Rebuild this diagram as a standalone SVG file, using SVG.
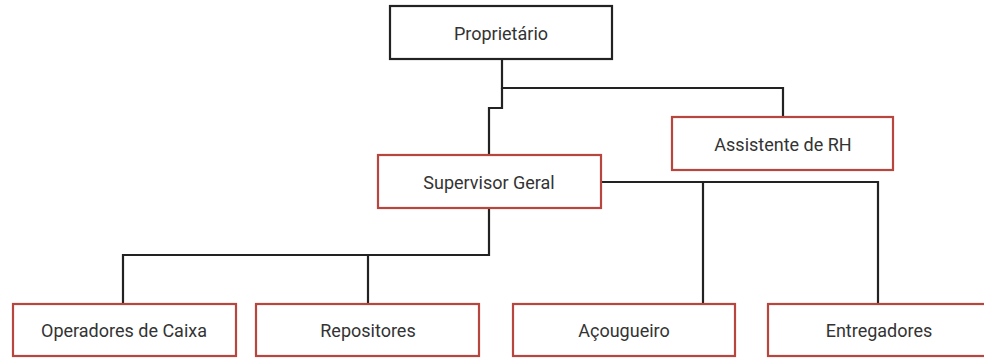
<svg xmlns="http://www.w3.org/2000/svg" width="984" height="358" viewBox="0 0 984 358">
<style>
.box{fill:#fff;stroke-width:2.2}
.blk{stroke:#222}
.red{stroke:#b9453f}
.lbl{font-family:Roboto,"Liberation Sans",sans-serif;font-size:18px;fill:#333;text-anchor:middle;dominant-baseline:central}
.con{fill:none;stroke:#222;stroke-width:2.2}
</style>
<rect width="984" height="358" fill="#fff"/>
<g id="connectors">
<path class="con" d="M502 59 V88 H783 V117"/>
<path class="con" d="M502 88 V108 H489 V155"/>
<path class="con" d="M601 182 H878 V304"/>
<path class="con" d="M703 182 V304"/>
<path class="con" d="M489 208 V255 H123 V304"/>
<path class="con" d="M368 255 V304"/>
</g>
<g id="proprietario"><rect class="box blk" x="390" y="6" width="222" height="53"/><text class="lbl" x="501" y="33">Proprietário</text></g>
<g id="assistente-rh"><rect class="box red" x="672" y="117" width="221" height="53"/><text class="lbl" x="783" y="144">Assistente de RH</text></g>
<g id="supervisor-geral"><rect class="box red" x="378" y="155" width="223" height="53"/><text class="lbl" x="489" y="182">Supervisor Geral</text></g>
<g id="operadores-caixa"><rect class="box red" x="13" y="304" width="223" height="52"/><text class="lbl" x="124" y="330">Operadores de Caixa</text></g>
<g id="repositores"><rect class="box red" x="256" y="304" width="223" height="52"/><text class="lbl" x="368" y="330">Repositores</text></g>
<g id="acougueiro"><rect class="box red" x="513" y="304" width="222" height="52"/><text class="lbl" x="624" y="330">Açougueiro</text></g>
<g id="entregadores"><rect class="box red" x="768" y="304" width="222" height="52"/><text class="lbl" x="879" y="330">Entregadores</text></g>
</svg>
